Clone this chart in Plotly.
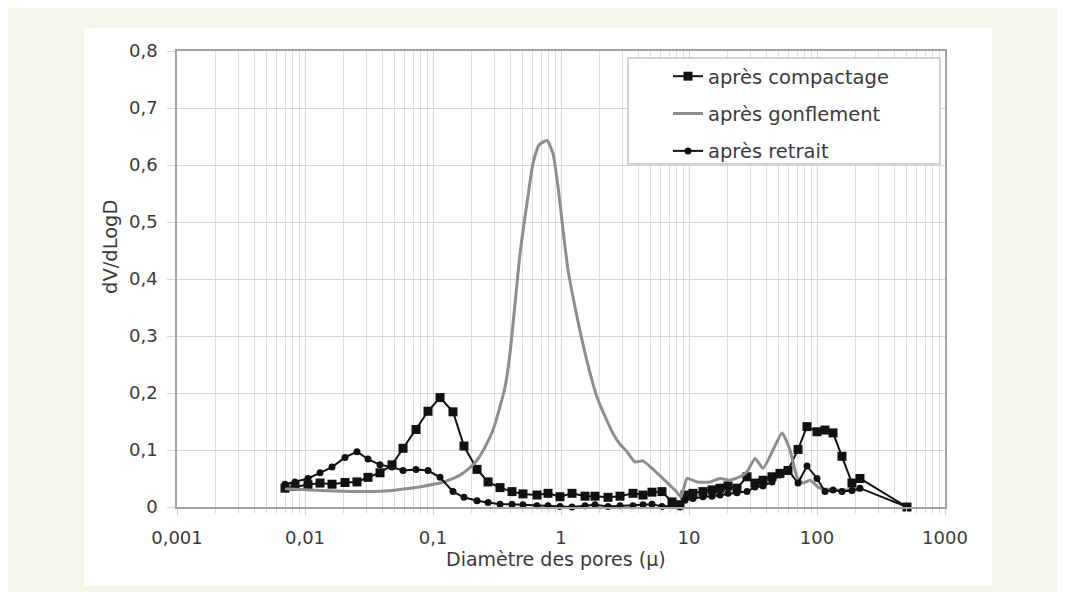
import plotly.graph_objects as go

# ---------------- data ----------------
diam_pts = [0.00698, 0.00835, 0.01055, 0.0131, 0.01626, 0.02054, 0.02547, 0.03105, 0.03855, 0.04786,
            0.05834, 0.07368, 0.0914, 0.1135, 0.1433, 0.1746, 0.2208, 0.2692, 0.334, 0.4141,
            0.5047, 0.6494, 0.7913, 0.982, 1.219, 1.54, 1.844, 2.33, 2.891, 3.652,
            4.373, 5.14, 6.152, 7.365, 8.506, 9.305, 10.75, 12.86, 15.13, 17.47,
            20.17, 23.71, 28.39, 32.79, 37.87, 44.49, 51.38, 59.34, 71.07, 83.5,
            100.0, 115.5, 133.4, 156.7, 187.6, 216.6, 504.7]

compactage = [0.033, 0.036, 0.039, 0.042, 0.040, 0.043, 0.044, 0.052, 0.060, 0.074,
              0.103, 0.136, 0.168, 0.192, 0.167, 0.107, 0.066, 0.044, 0.034, 0.027,
              0.023, 0.021, 0.024, 0.018, 0.024, 0.019, 0.019, 0.017, 0.019, 0.024,
              0.021, 0.026, 0.027, 0.009, 0.004, 0.021, 0.024, 0.027, 0.030, 0.033,
              0.037, 0.033, 0.053, 0.042, 0.047, 0.053, 0.059, 0.064, 0.101, 0.141,
              0.132, 0.135, 0.130, 0.089, 0.042, 0.050, 0.0]

retrait = [0.040, 0.044, 0.050, 0.060, 0.070, 0.087, 0.097, 0.084, 0.074, 0.070,
           0.064, 0.066, 0.064, 0.052, 0.027, 0.017, 0.011, 0.008, 0.005, 0.005,
           0.004, 0.002, 0.002, 0.001, 0.000, 0.002, 0.004, 0.001, 0.002, 0.002,
           0.004, 0.005, 0.001, 0.002, 0.000, 0.012, 0.015, 0.018, 0.019, 0.021,
           0.024, 0.025, 0.027, 0.035, 0.037, 0.044, 0.056, 0.065, 0.042, 0.072,
           0.050, 0.027, 0.030, 0.027, 0.029, 0.033, 0.0]

diam_gonf = [0.00698, 0.01094, 0.01714, 0.02691, 0.04217, 0.06607, 0.0866, 0.1135, 0.1358, 0.1625,
             0.1875, 0.2208, 0.2548, 0.2943, 0.3281, 0.3652, 0.3997, 0.4375, 0.4786, 0.5423,
             0.6041, 0.673, 0.778, 0.866, 0.9481, 1.037, 1.134, 1.286, 1.459, 1.686,
             1.946, 2.248, 2.548, 2.891, 3.28, 3.787, 4.373, 4.958, 5.931, 7.107,
             7.913, 8.66, 9.649, 11.55, 14.59, 17.47, 20.89, 25.01, 28.39, 32.79,
             37.87, 45.31, 53.33, 61.49, 69.8, 77.8, 88.12, 105.5, 138.2, 181.1, 216.6]

gonflement = [0.032, 0.030, 0.028, 0.027, 0.028, 0.033, 0.037, 0.042, 0.048, 0.056,
              0.066, 0.082, 0.105, 0.135, 0.170, 0.210, 0.270, 0.357, 0.445, 0.533,
              0.603, 0.635, 0.643, 0.620, 0.562, 0.486, 0.416, 0.351, 0.293, 0.235,
              0.188, 0.155, 0.129, 0.110, 0.097, 0.079, 0.081, 0.071, 0.055, 0.038,
              0.028, 0.018, 0.050, 0.044, 0.044, 0.050, 0.047, 0.053, 0.062, 0.085,
              0.068, 0.100, 0.130, 0.100, 0.053, 0.042, 0.047, 0.033, 0.030, 0.030, 0.030]

x_tickvals = [0.001, 0.01, 0.1, 1, 10, 100, 1000]
x_ticktext = ["0,001", "0,01", "0,1", "1", "10", "100", "1000"]
y_tickvals = [0, 0.1, 0.2, 0.3, 0.4, 0.5, 0.6, 0.7, 0.8]
y_ticktext = ["0", "0,1", "0,2", "0,3", "0,4", "0,5", "0,6", "0,7", "0,8"]

series_names = ["après compactage", "après gonflement", "après retrait"]

# ---------------- figure ----------------
FONT = "DejaVu Sans"
TXT = "#3a3a3a"
OFF = 8                      # page body margin
W, H = 1065 - OFF, 592 - OFF
L, R, T = 177 - OFF, 120, 51 - OFF
PW, PH = 768, 456
B = H - T - PH

def px_x(px):  # reference-screen pixel -> paper fraction
    return (px - 177) / PW

def px_y(py):
    return (507 - py) / PH

fig = go.Figure()

fig.add_trace(go.Scatter(
    x=diam_pts, y=compactage, name=series_names[0], mode="lines+markers",
    line=dict(color="#111111", width=2),
    marker=dict(symbol="square", size=9, color="#111111"),
    cliponaxis=False, legendgroup="a"))

fig.add_trace(go.Scatter(
    x=diam_gonf, y=gonflement, name=series_names[1], mode="lines",
    line=dict(color="#8e8e8e", width=3, shape="spline", smoothing=0.5),
    legendgroup="b"))

fig.add_trace(go.Scatter(
    x=diam_pts, y=retrait, name=series_names[2], mode="lines+markers",
    line=dict(color="#111111", width=2),
    marker=dict(symbol="circle", size=7, color="#111111"),
    cliponaxis=False, legendgroup="c"))

minor_vals = [m * 10.0 ** e for e in range(-3, 3) for m in range(2, 10)]

fig.update_xaxes(
    type="log", range=[-3, 3],
    tickmode="array", tickvals=x_tickvals, ticktext=x_ticktext,
    tickfont=dict(family=FONT, size=18, color=TXT),
    showgrid=True, gridcolor="#d6d6d6", gridwidth=1,
    ticks="outside", ticklen=6, tickcolor="#cfcfcf",
    ticklabelstandoff=8,
    minor=dict(tickmode="array", tickvals=minor_vals, showgrid=True,
               gridcolor="#dedede", gridwidth=1, ticks="outside", ticklen=4,
               tickcolor="#d6d6d6"),
    showline=True, linecolor="#a3a3a3", linewidth=1.5, mirror=True,
    zeroline=False)

fig.update_yaxes(
    range=[0, 0.8],
    tickmode="array", tickvals=y_tickvals, ticktext=y_ticktext,
    tickfont=dict(family=FONT, size=18, color=TXT),
    showgrid=True, gridcolor="#d6d6d6", gridwidth=1,
    ticks="outside", ticklen=8, tickcolor="#d6d6d6",
    ticklabelstandoff=6,
    showline=True, linecolor="#a3a3a3", linewidth=1.5, mirror=True,
    zeroline=False)

shapes = [
    # white panel
    dict(type="rect", xref="paper", yref="paper",
         x0=px_x(84), x1=px_x(992), y0=px_y(586), y1=px_y(28),
         fillcolor="white", line=dict(width=0), layer="below"),
    # legend box
    dict(type="rect", xref="paper", yref="paper",
         x0=px_x(628), x1=px_x(940), y0=px_y(164), y1=px_y(58),
         fillcolor="white", line=dict(color="#c4c4c4", width=1.5), layer="above"),
]

annotations = [
    dict(text="Diamètre des pores (µ)", xref="paper", yref="paper",
         x=px_x(556), y=px_y(559), xanchor="center", yanchor="middle",
         showarrow=False, font=dict(family=FONT, size=19, color=TXT)),
    dict(text="dV/dLogD", xref="paper", yref="paper",
         x=px_x(110), y=px_y(247), xanchor="center", yanchor="middle",
         textangle=-90, showarrow=False, font=dict(family=FONT, size=19.5, color=TXT)),
]

fig.update_layout(
    width=W, height=H,
    margin=dict(l=L, r=R, t=T, b=B, pad=0),
    paper_bgcolor="#f4f7ea", plot_bgcolor="white",
    font=dict(family=FONT, color=TXT),
    shapes=shapes, annotations=annotations,
    showlegend=True,
    legend=dict(x=px_x(668), y=px_y(57), xanchor="left", yanchor="top",
                bgcolor="rgba(0,0,0,0)", borderwidth=0,
                font=dict(family=FONT, size=19.5, color=TXT),
                tracegroupgap=9),
)

fig.write_html("out.html")
